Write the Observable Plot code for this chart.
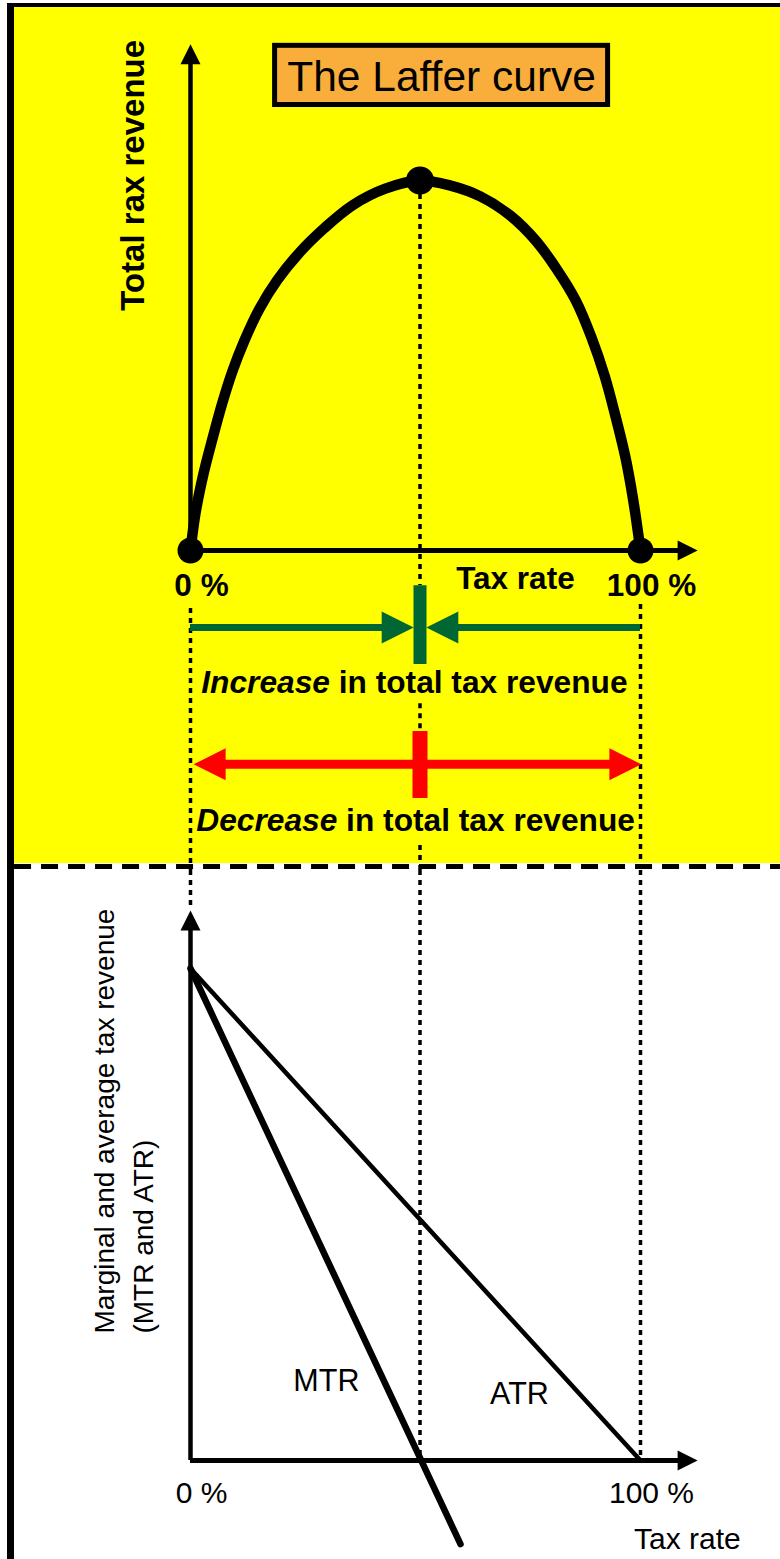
<!DOCTYPE html>
<html>
<head>
<meta charset="utf-8">
<script src="https://cdn.jsdelivr.net/npm/d3@7"></script>
<script src="https://cdn.jsdelivr.net/npm/@observablehq/plot@0.6"></script>
<style>
html, body { margin: 0; padding: 0; background: #fff; }
#page { position: relative; width: 780px; height: 1559px; overflow: hidden; }
#yellow { position: absolute; left: 14px; top: 7px; width: 766px; height: 856px; background: #ffff00; }
#borderLeft { position: absolute; left: 7px; top: 3px; width: 7px; height: 1556px; background: #000; }
#borderTop { position: absolute; left: 7px; top: 3px; width: 773px; height: 4px; background: #000; }
#topChart, #bottomChart { position: absolute; left: 0; }
#topChart { top: 0; }
#bottomChart { top: 870px; }
</style>
</head>
<body>
<div id="page">
  <div id="yellow"></div>
  <div id="topChart"></div>
  <div id="bottomChart"></div>
  <div id="borderLeft"></div>
  <div id="borderTop"></div>
</div>
<script>
// ---------- data ----------
const lafferRate    = [0, 1.1, 2.9, 4.9, 7.1, 9.3, 12.0, 15.3, 19.3, 24.2, 29.8, 36.0, 43.3, 51, 57.8, 64.4, 71.1, 76.7, 81.3, 85.6, 89.1, 92.0, 94.4, 96.7, 98.4, 100];
const lafferRevenue = [0, 10.0, 20.8, 30.3, 40.0, 48.4, 56.8, 65.3, 73.1, 80.5, 87.2, 93.3, 97.8, 100, 98.6, 95.7, 90.5, 83.8, 76.2, 67.6, 57.6, 47.3, 36.5, 24.9, 13.5, 0];
const peakRate = 51;
const peakRevenue = 100;
const mtrRate = [0, 60];
const mtrValue = [100, -17];
const atrRate = [0, 100];
const atrValue = [100, 0];
const rateTicks = [0, 100];
const rateTickLabels = ["0 %", "100 %"];
const titleText = "The Laffer curve";
const topYLabel = "Total rax revenue";
const xLabel = "Tax rate";
const increaseText = "Increase in total tax revenue";
const decreaseText = "Decrease in total tax revenue";
const bottomYLabel = ["Marginal and average tax revenue", "(MTR and ATR)"];
const seriesNames = ["MTR", "ATR"];

// ---------- helpers ----------
const F = '"Liberation Sans", Arial, Helvetica, sans-serif';
const GREEN = "#006633", RED = "#ff0000", ORANGE = "#F9AD3A";
function head(dir) {
  return {draw(ctx, size) {
    const r = Math.sqrt(size / Math.PI);
    ctx.moveTo(0, 0);
    if (dir === "up") { ctx.lineTo(-r, 2 * r); ctx.lineTo(r, 2 * r); }
    if (dir === "right") { ctx.lineTo(-2 * r, -r); ctx.lineTo(-2 * r, r); }
    if (dir === "left") { ctx.lineTo(2 * r, -r); ctx.lineTo(2 * r, r); }
    ctx.closePath();
  }};
}
const arrowUp = head("up"), arrowRight = head("right"), arrowLeft = head("left");

const laffer = lafferRate.map((r, i) => ({rate: r, revenue: lafferRevenue[i]}));
const ends = [laffer[0], laffer[laffer.length - 1]];
const peak = [{rate: peakRate, revenue: peakRevenue}];
const mtr = mtrRate.map((r, i) => ({rate: r, value: mtrValue[i]}));
const atr = atrRate.map((r, i) => ({rate: r, value: atrValue[i]}));

// ---------- top panel ----------
const topGuides = [
  {x: rateTicks[0], y1: -15.7, y2: -86.5},
  {x: rateTicks[1], y1: -14.6, y2: -86.5},
  {x: peakRate, y1: 96.2, y2: -9.5},
  {x: peakRate, y1: -41.4, y2: -48.9},
  {x: peakRate, y1: -79.7, y2: -86.5}
];

const topPlot = Plot.plot({
  width: 780, height: 870,
  style: "background: transparent;",
  x: {type: "linear", domain: [0, 100], range: [190, 640], axis: null},
  y: {type: "linear", domain: [0, 100], range: [550, 180], axis: null},
  marks: [
    Plot.ruleY([-85.4], {x1: -39.1, x2: 131.1, stroke: "#000", strokeWidth: 5, strokeDasharray: "17,10"}),
    Plot.ruleX(topGuides, {x: "x", y1: "y1", y2: "y2", stroke: "#000", strokeWidth: 3.5, strokeDasharray: "5,5"}),
    // axes
    Plot.ruleX([0], {y1: 0, y2: 133, stroke: "#000", strokeWidth: 4.5}),
    Plot.ruleY([0], {x1: 0, x2: 110, stroke: "#000", strokeWidth: 5}),
    Plot.dot([{x: 0, y: 136.8}], {x: "x", y: "y", r: 10, symbol: arrowUp, fill: "#000", stroke: "none"}),
    Plot.dot([{x: 112.7, y: 0}], {x: "x", y: "y", r: 10, symbol: arrowRight, fill: "#000", stroke: "none"}),
    // Laffer curve
    Plot.line(laffer, {x: "rate", y: "revenue", curve: "catmull-rom", stroke: "#000", strokeWidth: 10.5, strokeLinecap: "round", strokeLinejoin: "round"}),
    Plot.dot(ends, {x: "rate", y: "revenue", r: 13, fill: "#000", stroke: "none"}),
    Plot.dot(peak, {x: "rate", y: "revenue", r: 14, fill: "#000", stroke: "none"}),
    // title box
    Plot.rect([{x1: 18.8, x2: 92.8, y1: 120.4, y2: 136.4}], {x1: "x1", x2: "x2", y1: "y1", y2: "y2", fill: ORANGE, stroke: "#000", strokeWidth: 5}),
    Plot.text([titleText], {x: 55.8, y: 124.3, text: d => d, fontSize: 42.5, fontFamily: F, lineAnchor: "bottom", fill: "#000"}),
    // axis labels
    Plot.text([topYLabel], {x: -10.4, y: 101.4, text: d => d, rotate: -90, fontSize: 33, fontWeight: "bold", fontFamily: F, lineAnchor: "bottom", fill: "#000"}),
    Plot.text(rateTicks, {x: d => d, y: -12.4, text: (d, i) => rateTickLabels[i], dx: 11, fontSize: 31.5, fontWeight: "bold", fontFamily: F, lineAnchor: "bottom", fill: "#000"}),
    Plot.text([xLabel], {x: 72.2, y: -10.5, text: d => d, fontSize: 31.5, fontWeight: "bold", fontFamily: F, lineAnchor: "bottom", fill: "#000"}),
    // green (increase) arrows
    Plot.ruleY([{y: -20.8, x1: 0, x2: 44}, {y: -20.8, x1: 57.8, x2: 100}], {y: "y", x1: "x1", x2: "x2", stroke: GREEN, strokeWidth: 7}),
    Plot.ruleX([{x: peakRate, y1: -9.5, y2: -30.8}], {x: "x", y1: "y1", y2: "y2", stroke: GREEN, strokeWidth: 13}),
    Plot.dot([{x: 49.6, y: -20.8}], {x: "x", y: "y", r: 16, symbol: arrowRight, fill: GREEN, stroke: "none"}),
    Plot.dot([{x: 52.4, y: -20.8}], {x: "x", y: "y", r: 16, symbol: arrowLeft, fill: GREEN, stroke: "none"}),
    Plot.text([increaseText], {x: 2.4, y: -38.6, text: d => d, textAnchor: "start", fontSize: 31.7, fontWeight: "bold", fontFamily: F, lineAnchor: "bottom", fill: "#000"}),
    // red (decrease) arrows
    Plot.ruleY([{y: -57.8, x1: 5, x2: 95}], {y: "y", x1: "x1", x2: "x2", stroke: RED, strokeWidth: 9}),
    Plot.ruleX([{x: peakRate, y1: -48.9, y2: -67.0}], {x: "x", y1: "y1", y2: "y2", stroke: RED, strokeWidth: 15}),
    Plot.dot([{x: 0.7, y: -57.8}], {x: "x", y: "y", r: 16, symbol: arrowLeft, fill: RED, stroke: "none"}),
    Plot.dot([{x: 100.2, y: -57.8}], {x: "x", y: "y", r: 16, symbol: arrowRight, fill: RED, stroke: "none"}),
    Plot.text([decreaseText], {x: 1.3, y: -75.7, text: d => d, textAnchor: "start", fontSize: 31.7, fontWeight: "bold", fontFamily: F, lineAnchor: "bottom", fill: "#000"})
  ]
});

// italic first word
d3.select(topPlot).selectAll("text").each(function () {
  const t = this.textContent;
  for (const w of ["Increase", "Decrease"]) {
    if (t.startsWith(w + " ")) {
      this.textContent = "";
      d3.select(this).append("tspan").attr("font-style", "italic").text(w);
      d3.select(this).append("tspan").text(t.slice(w.length));
    }
  }
});
document.getElementById("topChart").appendChild(topPlot);

// ---------- bottom panel ----------
const bottomGuides = [
  {x: rateTicks[0], y1: 119.9, y2: 112.8},
  {x: peakRate, y1: 119.9, y2: 0},
  {x: rateTicks[1], y1: 119.9, y2: 0.6}
];

const bottomPlot = Plot.plot({
  width: 780, height: 689,
  style: "background: transparent;",
  x: {type: "linear", domain: [0, 100], range: [190, 640], axis: null},
  y: {type: "linear", domain: [0, 100], range: [590, 98], axis: null},
  marks: [
    Plot.ruleX(bottomGuides, {x: "x", y1: "y1", y2: "y2", stroke: "#000", strokeWidth: 3.5, strokeDasharray: "5,5"}),
    // axes
    Plot.ruleX([0], {y1: 0, y2: 109.8, stroke: "#000", strokeWidth: 4.5}),
    Plot.ruleY([0], {x1: 0, x2: 110, stroke: "#000", strokeWidth: 5}),
    Plot.dot([{x: 0, y: 111.8}], {x: "x", y: "y", r: 10, symbol: arrowUp, fill: "#000", stroke: "none"}),
    Plot.dot([{x: 112.7, y: 0}], {x: "x", y: "y", r: 10, symbol: arrowRight, fill: "#000", stroke: "none"}),
    // lines
    Plot.line(atr, {x: "rate", y: "value", stroke: "#000", strokeWidth: 4.5}),
    Plot.line(mtr, {x: "rate", y: "value", stroke: "#000", strokeWidth: 6.5}),
    // labels
    Plot.text([seriesNames[0]], {x: 30.2, y: 14.2, text: d => d, fontSize: 30.5, fontFamily: F, lineAnchor: "bottom", fill: "#000"}),
    Plot.text([seriesNames[1]], {x: 73.1, y: 11.4, text: d => d, fontSize: 30.5, fontFamily: F, lineAnchor: "bottom", fill: "#000"}),
    Plot.text(rateTicks, {x: d => d, y: -8.7, text: (d, i) => rateTickLabels[i], dx: 11, fontSize: 30, fontFamily: F, lineAnchor: "bottom", fill: "#000"}),
    Plot.text([xLabel], {x: 110.4, y: -17.9, text: d => d, fontSize: 30, fontFamily: F, lineAnchor: "bottom", fill: "#000"}),
    Plot.text([bottomYLabel[0]], {x: -16.9, y: 25.8, text: d => d, rotate: -90, textAnchor: "start", fontSize: 28, fontFamily: F, lineAnchor: "bottom", fill: "#000"}),
    Plot.text([bottomYLabel[1]], {x: -8.4, y: 25.8, text: d => d, rotate: -90, textAnchor: "start", fontSize: 28, fontFamily: F, lineAnchor: "bottom", fill: "#000"})
  ]
});
document.getElementById("bottomChart").appendChild(bottomPlot);
</script>
</body>
</html>
